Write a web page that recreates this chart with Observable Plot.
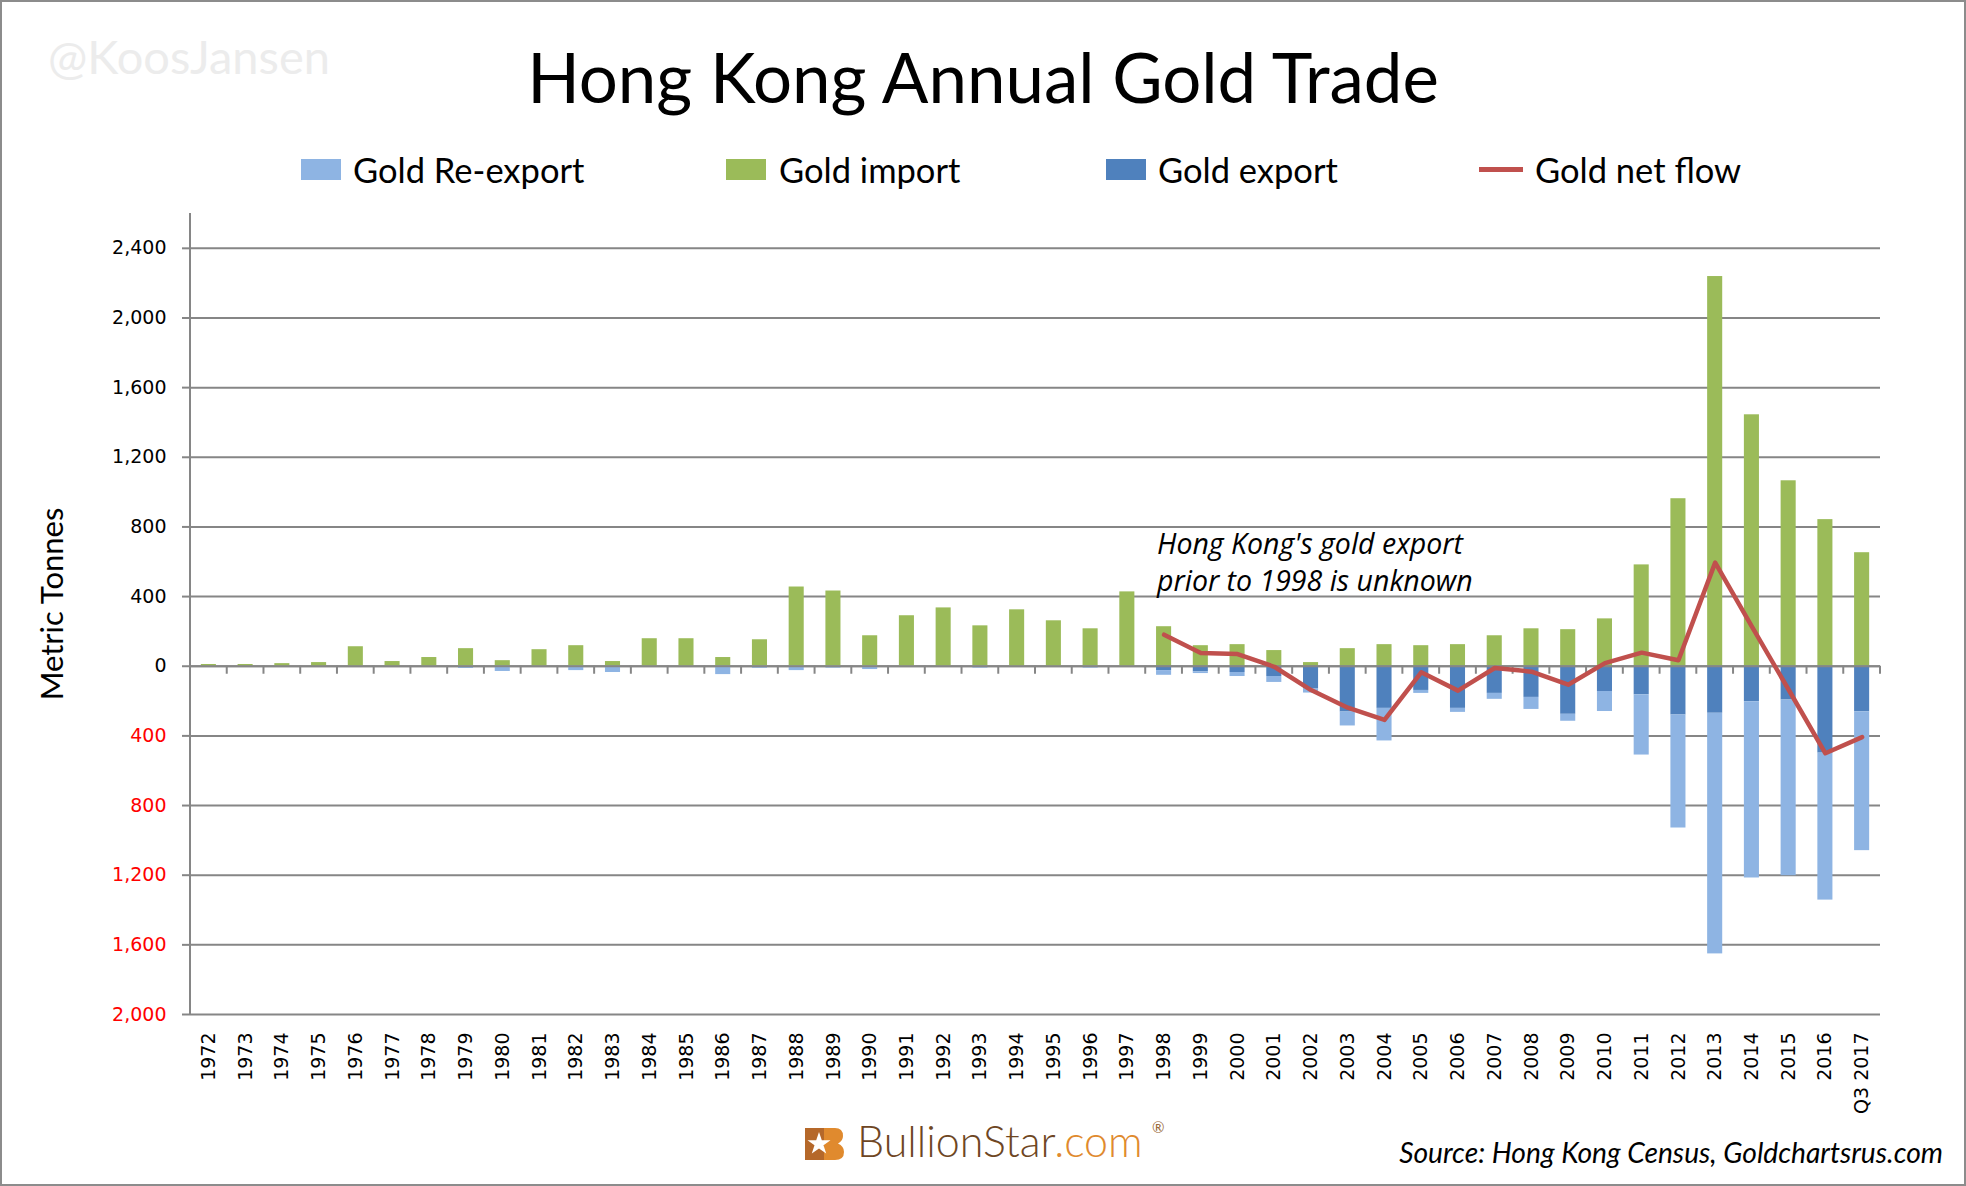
<!DOCTYPE html>
<html>
<head>
<meta charset="utf-8">
<script src="https://cdn.jsdelivr.net/npm/d3@7"></script>
<script src="https://cdn.jsdelivr.net/npm/@observablehq/plot@0.6"></script>
<style>
  html, body { margin: 0; padding: 0; background: #fff; }
  #page { position: relative; width: 1966px; height: 1186px; overflow: hidden; background: #fff; font-family: Lato, "Open Sans", sans-serif; color: #000; }
  #border { position: absolute; left: 0; top: 0; width: 1966px; height: 1186px; box-sizing: border-box; border: 2px solid #8c8c8c; pointer-events: none; z-index: 10; }
  .abs { position: absolute; white-space: nowrap; line-height: 1; }
  #watermark { left: 48px; top: 33px; font-size: 47px; color: #ececec; }
  #title { left: 0; width: 1966px; text-align: center; top: 42px; font-size: 69px; }
  .lgtext { font-size: 34.5px; top: 153px; }
  .sw { position: absolute; top: 159px; width: 40px; height: 21px; }
  #ylabel { left: 51px; top: 604px; font-size: 31px; transform: translate(-50%, -50%) rotate(-90deg); }
  #chart { position: absolute; left: 0; top: 200px; }
  #note { left: 1157px; top: 525px; font-family: "Open Sans", sans-serif; font-style: italic; font-size: 28.5px; line-height: 37px; }
  #source { right: 23px; top: 1138px; font-size: 28.2px; font-style: italic; }
  #logo { position: absolute; left: 805px; top: 1128px; }
  #brand { left: 857px; top: 1119px; font-size: 43px; font-weight: 300; color: #6e4623; }
  #brand .com { color: #e08a2e; }
  #reg { left: 1152px; top: 1120px; font-size: 15px; color: #9a6a3a; }
</style>
</head>
<body>
<div id="page">
  <div id="watermark" class="abs">@KoosJansen</div>
  <div id="title" class="abs">Hong Kong Annual Gold Trade</div>

  <div class="sw" style="left:301px;background:#8eb4e3"></div>
  <div class="abs lgtext" style="left:353px">Gold Re-export</div>
  <div class="sw" style="left:726px;background:#9bbb59"></div>
  <div class="abs lgtext" style="left:779px">Gold import</div>
  <div class="sw" style="left:1106px;background:#4f81bd"></div>
  <div class="abs lgtext" style="left:1158px">Gold export</div>
  <div style="position:absolute;left:1479px;top:167px;width:44px;height:5px;background:#c0504d"></div>
  <div class="abs lgtext" style="left:1535px">Gold net flow</div>

  <div id="ylabel" class="abs">Metric Tonnes</div>
  <div id="chart"></div>
  <div id="note" class="abs">Hong Kong's gold export<br>prior to 1998 is unknown</div>

  <svg id="logo" width="40" height="32" viewBox="0 0 40 32">
    <path d="M0 0 H19 V32 H0 Z" fill="#b5682a"/>
    <path d="M19 0 H30 Q38 0 38 8 Q38 13 33 15.5 Q39 18 39 24 Q39 32 30 32 H19 Z" fill="#e08a2e"/>
    <polygon points="14,4 16.8,12.2 25.5,12.2 18.5,17.3 21.2,25.6 14,20.5 6.8,25.6 9.5,17.3 2.5,12.2 11.2,12.2" fill="#ffffff"/>
  </svg>
  <div id="brand" class="abs">BullionStar<span class="com">.com</span></div>
  <div id="reg" class="abs">®</div>
  <div id="source" class="abs">Source: Hong Kong Census, Goldchartsrus.com</div>
  <div id="border"></div>
</div>

<script>
// ---------- data (tonnes) ----------
const years = ["1972","1973","1974","1975","1976","1977","1978","1979","1980","1981",
  "1982","1983","1984","1985","1986","1987","1988","1989","1990","1991",
  "1992","1993","1994","1995","1996","1997","1998","1999","2000","2001",
  "2002","2003","2004","2005","2006","2007","2008","2009","2010","2011",
  "2012","2013","2014","2015","2016","Q3 2017"];

const goldImport = [10,10,15,21,112,27,50,101,32,95,
  118,27,158,158,50,152,455,432,175,290,
  335,232,324,261,215,427,227,118,124,90,
  21,101,124,118,124,175,215,210,272,582,
  962,2238,1444,1065,842,652];

const goldExport = [0,0,0,0,0,0,0,0,0,0,
  0,0,0,0,0,0,0,0,0,0,
  0,0,0,0,0,0,25,32,36,59,
  131,263,242,139,242,156,179,276,145,164,
  280,270,204,194,499,262];

const goldReExport = [0,0,0,0,0,0,0,13,30,0,
  25,36,0,0,48,12,25,11,19,0,
  0,11,0,0,11,0,27,10,23,34,
  23,80,187,17,23,34,69,40,115,346,
  649,1382,1012,1009,844,797];

const netYears = ["1998","1999","2000","2001","2002","2003","2004","2005","2006","2007",
  "2008","2009","2010","2011","2012","2013","2014","2015","2016","Q3 2017"];
const netFlow = [181,76,70,-3,-137,-238,-308,-35,-140,-10,
  -31,-106,18,78,34,595,228,-135,-500,-407];

const posTicks = [0,400,800,1200,1600,2000,2400];
const negTicks = [-400,-800,-1200,-1600,-2000];

const seriesNames = ["Gold Re-export","Gold import","Gold export"];
const seriesColors = ["#8eb4e3","#9bbb59","#4f81bd"];

// ---------- tables built from the arrays ----------
const bars = [];
years.forEach((yr, i) => {
  bars.push({year: yr, series: "Gold import", value: goldImport[i]});
  bars.push({year: yr, series: "Gold export", value: -goldExport[i]});
  bars.push({year: yr, series: "Gold Re-export", value: -goldReExport[i]});
});
const net = netYears.map((yr, i) => ({year: yr, value: netFlow[i]}));

const fmt = d3.format(",");
const grey = "#868686";

const chart = Plot.plot({
  width: 1966,
  height: 920,
  marginTop: 13,
  marginBottom: 106,
  marginLeft: 190,
  marginRight: 86,
  style: {fontFamily: "'DejaVu Sans', Verdana, sans-serif", fontSize: "19px", color: "#000", background: "transparent", overflow: "visible"},
  x: {domain: years, paddingInner: 0.59, paddingOuter: 0.295, label: null},
  y: {domain: [-2000, 2600], label: null},
  color: {domain: seriesNames, range: seriesColors},
  marks: [
    Plot.gridY([...negTicks, ...posTicks], {stroke: grey, strokeOpacity: 1, strokeWidth: 2}),
    Plot.axisY({ticks: posTicks, tickFormat: d => fmt(Math.abs(d)), tickSize: 8, tickPadding: 16, stroke: grey, strokeWidth: 2, fill: "#000", label: null}),
    Plot.axisY({ticks: negTicks, tickFormat: d => fmt(Math.abs(d)), tickSize: 8, tickPadding: 16, stroke: grey, strokeWidth: 2, fill: "#ff0000", label: null}),
    Plot.axisX({anchor: "bottom", tickRotate: -90, tickSize: 0, tickPadding: 18, fill: "#000", label: null}),
    Plot.barY(bars, {x: "year", y: "value", fill: "series"}),
    Plot.ruleY([0], {stroke: grey, strokeWidth: 2}),
    Plot.line(net, {x: "year", y: "value", stroke: "#c0504d", strokeWidth: 4.5, strokeLinejoin: "round", strokeLinecap: "round"})
  ]
});
document.getElementById("chart").appendChild(chart);

// axis line and category tick marks, placed with Plot's own scales
const sx = chart.scale("x"), sy = chart.scale("y");
const [xa, xb] = sx.range;
const stepW = (xb - xa) / years.length;
const y0 = sy.apply(0);
const svg = d3.select(chart);
const gT = svg.insert("g", "g[aria-label='line']").attr("stroke", grey).attr("stroke-width", 2);
gT.selectAll("line").data(d3.range(years.length + 1)).join("line")
  .attr("x1", k => xa + k * stepW).attr("x2", k => xa + k * stepW)
  .attr("y1", y0).attr("y2", y0 + 8);
svg.insert("line", "g[aria-label='line']")
  .attr("x1", xa).attr("x2", xa)
  .attr("y1", sy.apply(2600)).attr("y2", sy.apply(-2000))
  .attr("stroke", grey).attr("stroke-width", 2);
</script>
</body>
</html>
